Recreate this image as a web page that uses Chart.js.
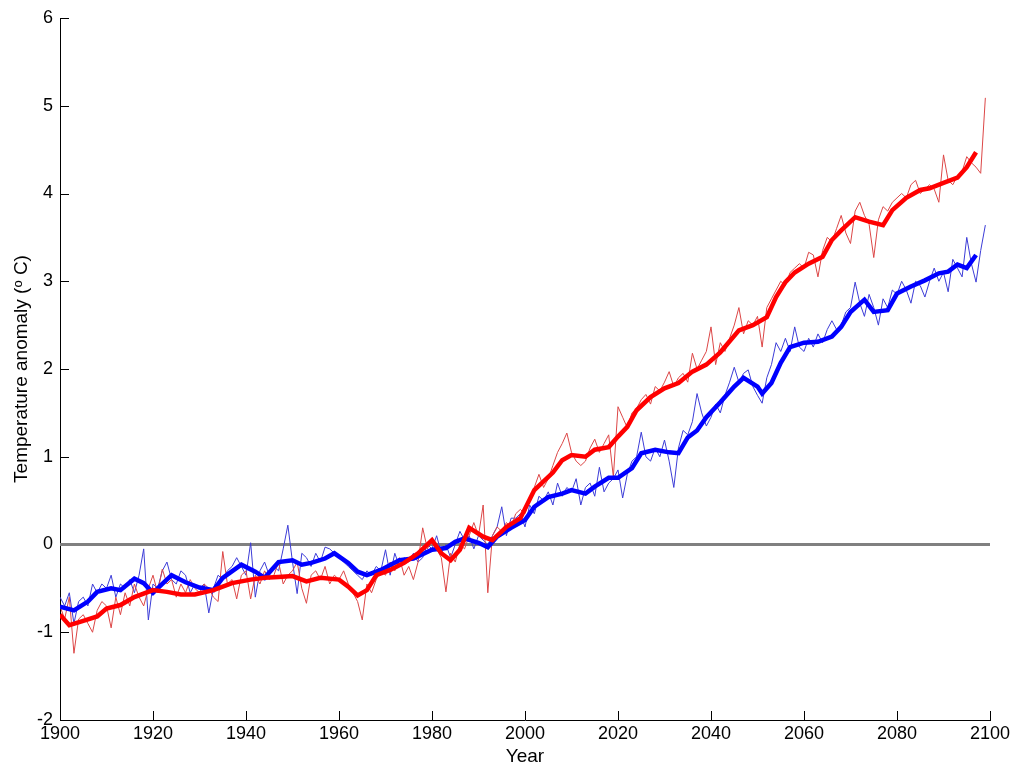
<!DOCTYPE html>
<html>
<head>
<meta charset="utf-8">
<script src="https://cdn.jsdelivr.net/npm/chart.js@4"></script>
<style>
    body { margin: 0; background: #fff; }
    canvas { display: block; }
</style>
</head>
<body>
<canvas id="tempChart" width="1017" height="771"></canvas>
<script>
// annual values 1900..2099
const startYear = 1900;

const redAnnual = [
    -0.70, -0.85, -0.60, -1.24, -0.85, -0.80, -0.90, -1.00, -0.75, -0.65,
    -0.70, -0.95, -0.60, -0.80, -0.55, -0.70, -0.45, -0.60, -0.70, -0.50,
    -0.35, -0.55, -0.28, -0.45, -0.40, -0.60, -0.45, -0.55, -0.40, -0.50,
    -0.55, -0.45, -0.50, -0.60, -0.65, -0.08, -0.45, -0.40, -0.62, -0.35,
    -0.30, -0.62, -0.35, -0.45, -0.30, -0.40, -0.35, -0.20, -0.45, -0.35,
    -0.30, -0.20, -0.50, -0.67, -0.35, -0.30, -0.40, -0.25, -0.45, -0.35,
    -0.40, -0.30, -0.45, -0.55, -0.65, -0.86, -0.45, -0.55, -0.40, -0.30,
    -0.35, -0.20, -0.30, -0.15, -0.35, -0.25, -0.40, -0.20, 0.19, -0.05,
    0.05, -0.05, -0.15, -0.54, -0.10, -0.20, 0.00, -0.05, 0.10, 0.25,
    0.10, 0.45, -0.55, 0.10, 0.20, 0.15, 0.25, 0.20, 0.35, 0.40,
    0.35, 0.50, 0.65, 0.80, 0.65, 0.75, 0.90, 1.05, 1.15, 1.27,
    1.05, 0.95, 0.90, 0.95, 1.10, 1.20, 1.05, 1.15, 1.25, 0.77,
    1.57, 1.45, 1.33, 1.50, 1.55, 1.65, 1.71, 1.60, 1.80, 1.75,
    1.85, 1.97, 1.80, 1.90, 1.95, 1.85, 2.18, 2.00, 2.10, 2.20,
    2.48, 2.05, 2.30, 2.20, 2.35, 2.50, 2.70, 2.40, 2.55, 2.50,
    2.60, 2.25, 2.70, 2.80, 2.90, 3.00, 2.95, 3.10, 3.15, 3.20,
    3.15, 3.33, 3.30, 3.05, 3.35, 3.50, 3.45, 3.60, 3.75, 3.55,
    3.43, 3.80, 3.90, 3.75, 3.65, 3.27, 3.70, 3.85, 3.80, 3.90,
    3.95, 4.00, 3.95, 4.10, 4.15, 4.00, 4.05, 4.10, 4.05, 3.90,
    4.44, 4.15, 4.10, 4.20, 4.25, 4.42, 4.35, 4.30, 4.23, 5.09
];

const blueAnnual = [
    -0.60, -0.70, -0.55, -0.90, -0.65, -0.60, -0.70, -0.45, -0.55, -0.45,
    -0.50, -0.35, -0.60, -0.45, -0.50, -0.40, -0.55, -0.35, -0.05, -0.86,
    -0.45, -0.50, -0.30, -0.20, -0.40, -0.45, -0.30, -0.35, -0.55, -0.45,
    -0.50, -0.45, -0.78, -0.50, -0.35, -0.40, -0.30, -0.25, -0.15, -0.25,
    -0.35, 0.02, -0.60, -0.30, -0.20, -0.35, -0.25, -0.30, -0.05, 0.22,
    -0.20, -0.56, -0.10, -0.15, -0.25, -0.10, -0.20, -0.03, -0.05, -0.10,
    -0.15, -0.20, -0.25, -0.30, -0.35, -0.40, -0.30, -0.35, -0.25, -0.30,
    -0.06, -0.35, -0.10, -0.25, -0.15, -0.20, -0.10, -0.20, -0.15, 0.00,
    -0.05, 0.10, -0.10, 0.00, -0.15, 0.00, 0.15, 0.05, 0.10, -0.05,
    0.10, 0.05, 0.00, 0.10, 0.20, 0.43, 0.10, 0.30, 0.30, 0.35,
    0.20, 0.45, 0.35, 0.55, 0.50, 0.60, 0.45, 0.70, 0.55, 0.65,
    0.60, 0.75, 0.45, 0.65, 0.70, 0.55, 0.88, 0.60, 0.70, 0.75,
    0.85, 0.53, 0.80, 0.95, 1.00, 1.28, 1.00, 0.95, 1.10, 1.00,
    1.19, 0.95, 0.65, 1.10, 1.30, 1.25, 1.40, 1.72, 1.50, 1.35,
    1.45, 1.60, 1.50, 1.70, 1.85, 2.02, 1.85, 1.95, 1.99, 1.80,
    1.70, 1.61, 1.90, 2.05, 2.30, 2.20, 2.35, 2.20, 2.48, 2.25,
    2.20, 2.35, 2.25, 2.40, 2.30, 2.45, 2.55, 2.45, 2.50, 2.65,
    2.70, 2.99, 2.75, 2.60, 2.85, 2.70, 2.50, 2.80, 2.70, 2.90,
    2.85, 3.00, 2.90, 2.75, 3.00, 2.95, 2.82, 3.00, 3.15, 3.00,
    3.10, 2.88, 3.25, 3.15, 3.05, 3.50, 3.20, 2.99, 3.35, 3.64
];

// smoothed curves (thick lines)
const redSmoothYears = [1900, 1902, 1905, 1908, 1910, 1913, 1916, 1920, 1923, 1926,
    1929, 1933, 1937, 1941, 1944, 1947, 1950, 1953, 1956, 1960,
    1962, 1964, 1966, 1968, 1971, 1974, 1977, 1980, 1982, 1984,
    1986, 1988, 1991, 1993, 1996, 1999, 2002, 2006, 2008, 2010,
    2013, 2015, 2018, 2020, 2022, 2024, 2027, 2030, 2033, 2036,
    2039, 2042, 2046, 2049, 2052, 2054, 2056, 2058, 2061, 2064,
    2066, 2068, 2071, 2074, 2077, 2079, 2082, 2085, 2087, 2090,
    2093, 2095, 2097];
const redSmooth = [-0.80, -0.92, -0.87, -0.82, -0.73, -0.69, -0.60, -0.52, -0.54, -0.57,
    -0.57, -0.52, -0.44, -0.40, -0.38, -0.37, -0.36, -0.42, -0.38, -0.40,
    -0.48, -0.58, -0.52, -0.35, -0.29, -0.21, -0.10, 0.05, -0.10, -0.18,
    -0.06, 0.19, 0.09, 0.05, 0.20, 0.30, 0.62, 0.82, 0.96, 1.02,
    1.00, 1.08, 1.11, 1.23, 1.34, 1.53, 1.68, 1.78, 1.84, 1.97,
    2.05, 2.19, 2.44, 2.50, 2.59, 2.82, 2.99, 3.10, 3.20, 3.28,
    3.47, 3.58, 3.73, 3.68, 3.64, 3.81, 3.95, 4.04, 4.06, 4.12,
    4.18, 4.30, 4.47];

const blueSmoothYears = [1900, 1903, 1906, 1908, 1911, 1913, 1916, 1918, 1920, 1922,
    1924, 1927, 1930, 1933, 1935, 1939, 1942, 1944, 1947, 1950,
    1952, 1954, 1957, 1959, 1962, 1964, 1966, 1969, 1973, 1976,
    1980, 1983, 1985, 1987, 1990, 1992, 1994, 1997, 2000, 2002,
    2005, 2008, 2010, 2013, 2015, 2018, 2020, 2023, 2025, 2028,
    2031, 2033, 2035, 2037, 2039, 2042, 2045, 2047, 2050, 2051,
    2053, 2055, 2057, 2060, 2063, 2066, 2068, 2070, 2073, 2075,
    2078, 2080, 2083, 2086, 2089, 2091, 2093, 2095, 2097];
const blueSmooth = [-0.71, -0.75, -0.65, -0.54, -0.50, -0.52, -0.39, -0.44, -0.55, -0.45,
    -0.35, -0.43, -0.49, -0.52, -0.38, -0.23, -0.31, -0.38, -0.20, -0.18,
    -0.23, -0.21, -0.16, -0.10, -0.21, -0.31, -0.35, -0.29, -0.18, -0.16,
    -0.06, -0.04, 0.03, 0.07, 0.02, -0.03, 0.09, 0.19, 0.28, 0.43,
    0.54, 0.58, 0.62, 0.58, 0.66, 0.76, 0.76, 0.87, 1.04, 1.08,
    1.05, 1.04, 1.22, 1.30, 1.45, 1.62, 1.80, 1.90, 1.80, 1.72,
    1.84, 2.07, 2.25, 2.30, 2.31, 2.37, 2.48, 2.65, 2.79, 2.65,
    2.67, 2.86, 2.94, 3.01, 3.09, 3.11, 3.19, 3.15, 3.30];

const zeroYears = [1900, 2100];
const zeroValues = [0, 0];

const xTicks = [1900, 1920, 1940, 1960, 1980, 2000, 2020, 2040, 2060, 2080, 2100];
const yTicks = [-2, -1, 0, 1, 2, 3, 4, 5, 6];

function toPoints(xs, ys) {
    return ys.map((v, i) => ({ x: xs[i], y: v }));
}
function annualPoints(vals) {
    return vals.map((v, i) => ({ x: startYear + i, y: v }));
}

// MATLAB style ticks pointing into the plot
const innerTicks = {
    id: 'innerTicks',
    beforeDatasetsDraw(chart) {
        const ctx = chart.ctx;
        const xs = chart.scales.x, ys = chart.scales.y;
        const area = chart.chartArea;
        ctx.save();
        ctx.strokeStyle = '#000';
        ctx.lineWidth = 1;
        ctx.beginPath();
        xTicks.forEach(t => {
            const px = Math.round(xs.getPixelForValue(t)) + 0.5;
            ctx.moveTo(px, area.bottom);
            ctx.lineTo(px, area.bottom - 9);
        });
        yTicks.forEach(t => {
            const py = Math.round(ys.getPixelForValue(t)) + 0.5;
            ctx.moveTo(area.left, py);
            ctx.lineTo(area.left + 9, py);
        });
        ctx.stroke();
        ctx.restore();
    }
};

const fontFamily = '"Liberation Sans", Arial, sans-serif';

new Chart(document.getElementById('tempChart').getContext('2d'), {
    type: 'line',
    data: {
        datasets: [
            {
                label: 'red smoothed',
                data: toPoints(redSmoothYears, redSmooth),
                borderColor: '#ff0000',
                borderWidth: 4.5,
                order: 1
            },
            {
                label: 'blue smoothed',
                data: toPoints(blueSmoothYears, blueSmooth),
                borderColor: '#0000ff',
                borderWidth: 4.5,
                order: 2
            },
            {
                label: 'red annual',
                data: annualPoints(redAnnual),
                borderColor: 'rgb(220, 70, 70)',
                borderWidth: 1,
                order: 3
            },
            {
                label: 'blue annual',
                data: annualPoints(blueAnnual),
                borderColor: 'rgb(60, 60, 215)',
                borderWidth: 1,
                order: 4
            },
            {
                label: 'zero',
                data: toPoints(zeroYears, zeroValues),
                borderColor: 'rgb(128, 128, 128)',
                borderWidth: 3,
                order: 5
            }
        ]
    },
    options: {
        responsive: false,
        animation: false,
        events: [],
        layout: { padding: { top: 18, right: 27, left: 0, bottom: 0 } },
        elements: {
            point: { radius: 0 },
            line: { tension: 0, fill: false }
        },
        plugins: {
            legend: { display: false },
            tooltip: { enabled: false }
        },
        scales: {
            x: {
                type: 'linear',
                min: 1900,
                max: 2100,
                afterFit: scale => { scale.height = 51; },
                afterBuildTicks: scale => { scale.ticks = xTicks.map(v => ({ value: v })); },
                grid: { display: false, drawTicks: false },
                border: { display: true, color: '#000', width: 1 },
                ticks: {
                    padding: 3,
                    color: '#000',
                    maxRotation: 0,
                    autoSkip: false,
                    font: { family: fontFamily, size: 18 },
                    callback: v => String(v)
                },
                title: {
                    display: true,
                    text: 'Year',
                    color: '#000',
                    padding: { top: 0, bottom: 3 },
                    font: { family: fontFamily, size: 19 }
                }
            },
            y: {
                min: -2,
                max: 6,
                afterFit: scale => { scale.width = 60; },
                afterBuildTicks: scale => { scale.ticks = yTicks.map(v => ({ value: v })); },
                grid: { display: false, drawTicks: false },
                border: { display: true, color: '#000', width: 1 },
                ticks: {
                    padding: 7,
                    color: '#000',
                    autoSkip: false,
                    font: { family: fontFamily, size: 18 },
                    callback: v => String(v)
                },
                title: {
                    display: true,
                    text: 'Temperature anomaly (ᵒ C)',
                    color: '#000',
                    padding: { top: 10, bottom: 0 },
                    font: { family: fontFamily, size: 19 }
                }
            }
        }
    },
    plugins: [innerTicks]
});
</script>
</body>
</html>
